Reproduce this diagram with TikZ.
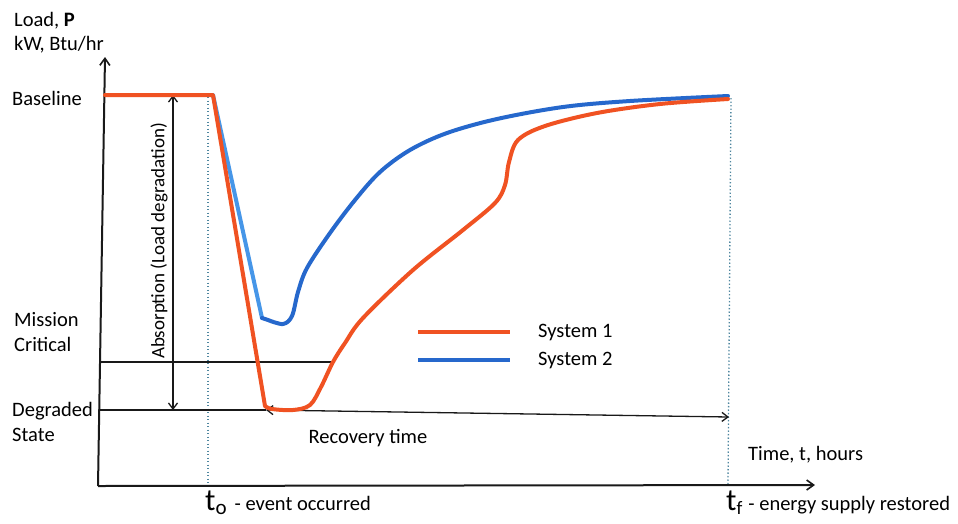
\documentclass[tikz,border=0pt]{standalone}
\usepackage{fontspec}
\setmainfont{Carlito}
\usetikzlibrary{arrows.meta}
\definecolor{sysone}{RGB}{240,82,34}
\definecolor{systwo}{RGB}{38,104,204}
\definecolor{systwolight}{RGB}{70,150,232}
\definecolor{marker}{RGB}{80,135,160}
\tikzset{
  lbl/.style={font=\fontsize{20.5}{24}\selectfont, inner sep=0pt, text=black},
  axis/.style={line width=2pt, black!90, -{Straight Barb[length=7pt,width=10pt,line width=1.6pt]}},
  guide/.style={line width=1.3pt, black!90},
  span/.style={line width=1.3pt, black!90, {Straight Barb[length=6pt,width=9pt]}-{Straight Barb[length=6pt,width=9pt]}},
  tmark/.style={line width=1.3pt, marker, dash pattern=on 1.3pt off 2.2pt},
  curveone/.style={line width=4pt, sysone, line join=round, line cap=round},
  curvetwo/.style={line width=4pt, systwo, line join=round, line cap=round},
}
\begin{document}
\begin{tikzpicture}[x=1pt,y=-1pt]
\useasboundingbox (0,0) rectangle (958,523);

% event and restoration markers
\draw[tmark] (208,97) -- (208,485);
\draw[tmark] (731,98) -- (728,485);

% axes
\coordinate (origin) at (98,486);
\coordinate (ytip) at (105,57);
\coordinate (xtip) at (815,485);
\draw[axis] (origin) -- (ytip);
\draw[axis] (origin) -- (xtip);

% reference levels
\coordinate (mcL) at (100,362);
\coordinate (mcR) at (332,362);
\coordinate (dgL) at (100,410);
\coordinate (rcL) at (266,410);
\coordinate (rcR) at (729,417);
\draw[guide] (mcL) -- (mcR);
\draw[guide] (dgL) -- (rcL);
\draw[span] (rcL) -- (rcR);

% absorption span
\coordinate (abT) at (173,95);
\coordinate (abB) at (173,410);
\draw[span] (abT) -- (abB);

% System 2 response
\draw[curvetwo, systwolight] (213,95) -- (262,318);
\draw[curvetwo] (262,318) -- (268,320)
  plot[smooth, tension=0.55] coordinates {(268,320) (283,324) (292,316) (298,292) (307,268) (330,233) (355,200) (380,172) (410,150) (447,133) (497,119) (563,107) (630,101) (728,96)};

% System 1 response
\draw[curveone] (105,95) -- (213,95) -- (265,406)
  plot[smooth, tension=0.55] coordinates {(265,406) (272,409) (293,410) (310,405) (321,387) (333,362) (345,343) (363,318) (413,270) (463,230) (495,203) (505,185) (509,162) (518,140) (545,126) (597,113) (660,104) (728,99)};

% legend
\draw[curveone, line cap=butt] (418,332) -- (510,332);
\draw[curvetwo, line cap=butt] (418,360) -- (510,360);
\node[lbl, anchor=west] (leg1) at (538,332) {System 1};
\node[lbl, anchor=west] (leg2) at (538,360) {System 2};

% labels
\node[lbl, anchor=west] (yname) at (14,21) {Load, \textbf{P}};
\node[lbl, anchor=west] (yunit) at (14,45) {kW, Btu/hr};
\node[lbl, anchor=west] (base) at (12,98) {Baseline};
\node[lbl, anchor=west] (mc1) at (14,320) {Mission};
\node[lbl, anchor=west] (mc2) at (14,344) {Critical};
\node[lbl, anchor=west] (dg1) at (12,411) {Degraded};
\node[lbl, anchor=west] (dg2) at (12,435) {State};
\node[lbl, rotate=90, font=\fontsize{19}{22}\selectfont] (absorb) at (159,241) {Absorption (Load degradation)};
\node[lbl] (rectime) at (368,438) {Recovery time};
\node[lbl, anchor=west] (tname) at (748,455) {Time, t, hours};
\node[lbl, anchor=base west] (t0) at (205,510) {{\fontsize{31}{31}\selectfont t}\raisebox{-4pt}{\fontsize{21}{21}\selectfont o}\hspace{8pt}- event occurred};
\node[lbl, anchor=base west] (tf) at (726,510) {{\fontsize{31}{31}\selectfont t}\raisebox{-4pt}{\fontsize{19}{19}\selectfont f}\hspace{6pt}- energy supply restored};
\end{tikzpicture}
\end{document}
